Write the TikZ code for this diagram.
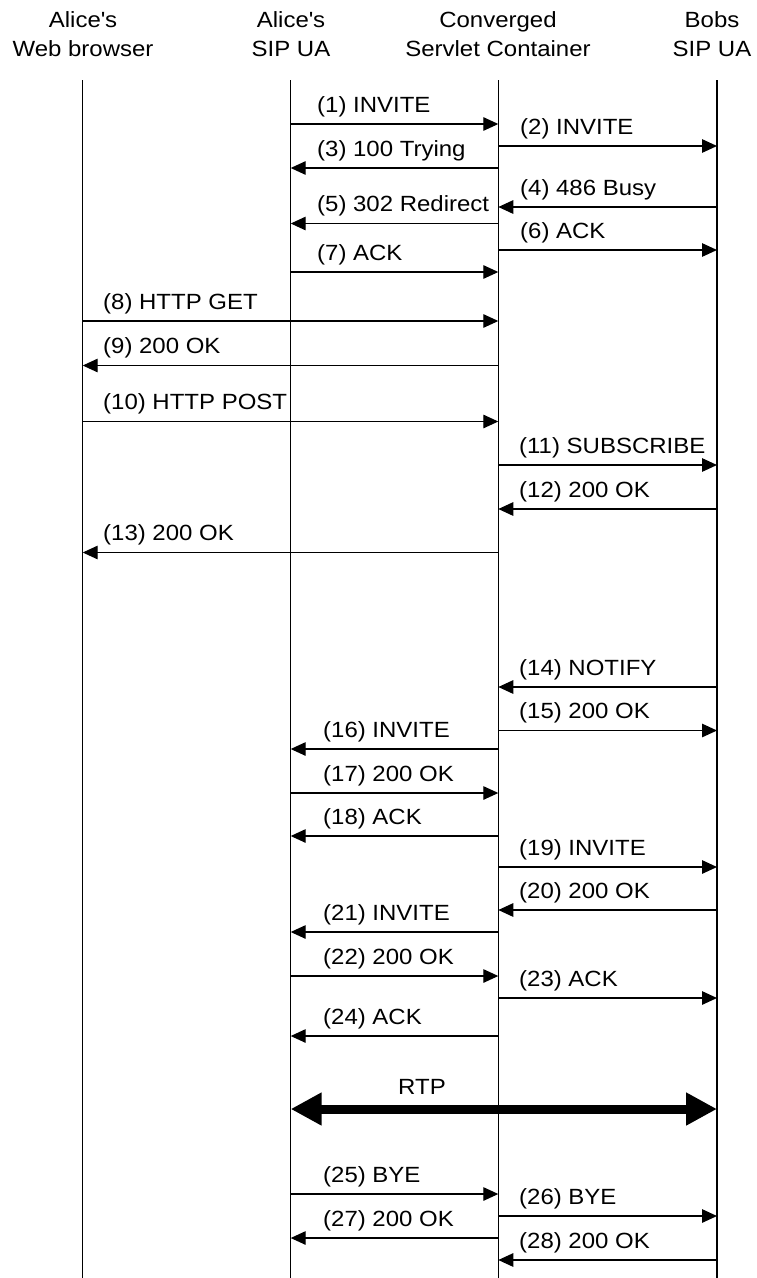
\documentclass[tikz,border=0pt]{standalone}
\usepackage{fontspec}
\setmainfont[FakeStretch=1.09]{Liberation Sans}
\usetikzlibrary{arrows.meta}
\newcommand\sipmsg[6]{%
  \coordinate (#6s) at (#1,#3);
  \coordinate (#6e) at (#2,#3);
  \draw[msg] (#6s) -- (#6e);
  \node[lbl] (#6l) at (#4,#3-12) {#5};}
\begin{document}
\begin{tikzpicture}[x=1pt,y=-1pt,
  msg/.style={line width=1.35pt, -{Triangle[length=15pt,width=13.5pt]}},
  lifeline/.style={line width=1.35pt},
  lbl/.style={font=\fontsize{22}{26}\selectfont, inner sep=0pt, anchor=base west},
  hdr/.style={font=\fontsize{22}{26}\selectfont, inner sep=0pt, anchor=base},
  rtp/.style={line width=9pt, {Triangle[length=31pt,width=31pt]}-{Triangle[length=31pt,width=31pt]}}]
\useasboundingbox (0,0) rectangle (756,1278);
\fill[white] (0,0) rectangle (756,1278);
% headers
\node[hdr] (h1a) at (83,27) {Alice\textquotesingle s};
\node[hdr] (h1b) at (83,56) {Web browser};
\node[hdr] (h2a) at (291,27) {Alice\textquotesingle s};
\node[hdr] (h2b) at (291,56) {SIP UA};
\node[hdr] (h3a) at (498,27) {Converged};
\node[hdr] (h3b) at (498,56) {Servlet Container};
\node[hdr] (h4a) at (712,27) {Bobs};
\node[hdr] (h4b) at (712,56) {SIP UA};
% lifelines
\def\LA{82.7}\def\LB{290.7}\def\LC{498.3}\def\LD{717}
\coordinate (L1t) at (\LA,80); \coordinate (L1b) at (\LA,1278);
\coordinate (L2t) at (\LB,80); \coordinate (L2b) at (\LB,1278);
\coordinate (L3t) at (\LC,80); \coordinate (L3b) at (\LC,1278);
\coordinate (L4t) at (\LD,80); \coordinate (L4b) at (\LD,1278);
\draw[lifeline] (L1t) -- (L1b);
\draw[lifeline] (L2t) -- (L2b);
\draw[lifeline] (L3t) -- (L3b);
\draw[lifeline] (L4t) -- (L4b);
% messages
\sipmsg{\LB}{\LC}{124}{317}{(1) INVITE}{m1}
\sipmsg{\LC}{\LD}{146}{520}{(2) INVITE}{m2}
\sipmsg{\LC}{\LB}{168}{317}{(3) 100 Trying}{m3}
\sipmsg{\LD}{\LC}{207}{520}{(4) 486 Busy}{m4}
\sipmsg{\LC}{\LB}{223.5}{317}{(5) 302 Redirect}{m5}
\sipmsg{\LC}{\LD}{250}{520}{(6) ACK}{m6}
\sipmsg{\LB}{\LC}{272}{317}{(7) ACK}{m7}
\sipmsg{\LA}{\LC}{321}{103}{(8) HTTP GET}{m8}
\sipmsg{\LC}{\LA}{365.5}{103}{(9) 200 OK}{m9}
\sipmsg{\LA}{\LC}{421.5}{103}{(10) HTTP POST}{m10}
\sipmsg{\LC}{\LD}{465}{519}{(11) SUBSCRIBE}{m11}
\sipmsg{\LD}{\LC}{509}{519}{(12) 200 OK}{m12}
\sipmsg{\LC}{\LA}{552.5}{103}{(13) 200 OK}{m13}
\sipmsg{\LD}{\LC}{687}{519}{(14) NOTIFY}{m14}
\sipmsg{\LC}{\LD}{730.5}{519}{(15) 200 OK}{m15}
\sipmsg{\LC}{\LB}{749}{323}{(16) INVITE}{m16}
\sipmsg{\LB}{\LC}{793}{323}{(17) 200 OK}{m17}
\sipmsg{\LC}{\LB}{836}{323}{(18) ACK}{m18}
\sipmsg{\LC}{\LD}{867}{519}{(19) INVITE}{m19}
\sipmsg{\LD}{\LC}{910}{519}{(20) 200 OK}{m20}
\sipmsg{\LC}{\LB}{932}{323}{(21) INVITE}{m21}
\sipmsg{\LB}{\LC}{976}{323}{(22) 200 OK}{m22}
\sipmsg{\LC}{\LD}{998}{519}{(23) ACK}{m23}
\sipmsg{\LC}{\LB}{1036}{323}{(24) ACK}{m24}
% RTP
\coordinate (rtpA) at (\LB,1109);
\coordinate (rtpB) at (\LD,1109);
\draw[rtp] (rtpA) -- (rtpB);
\node[hdr] (rtpl) at (422,1094) {RTP};
\sipmsg{\LB}{\LC}{1194}{323}{(25) BYE}{m25}
\sipmsg{\LC}{\LD}{1216}{519}{(26) BYE}{m26}
\sipmsg{\LC}{\LB}{1238}{323}{(27) 200 OK}{m27}
\sipmsg{\LD}{\LC}{1260}{519}{(28) 200 OK}{m28}
\end{tikzpicture}
\end{document}
